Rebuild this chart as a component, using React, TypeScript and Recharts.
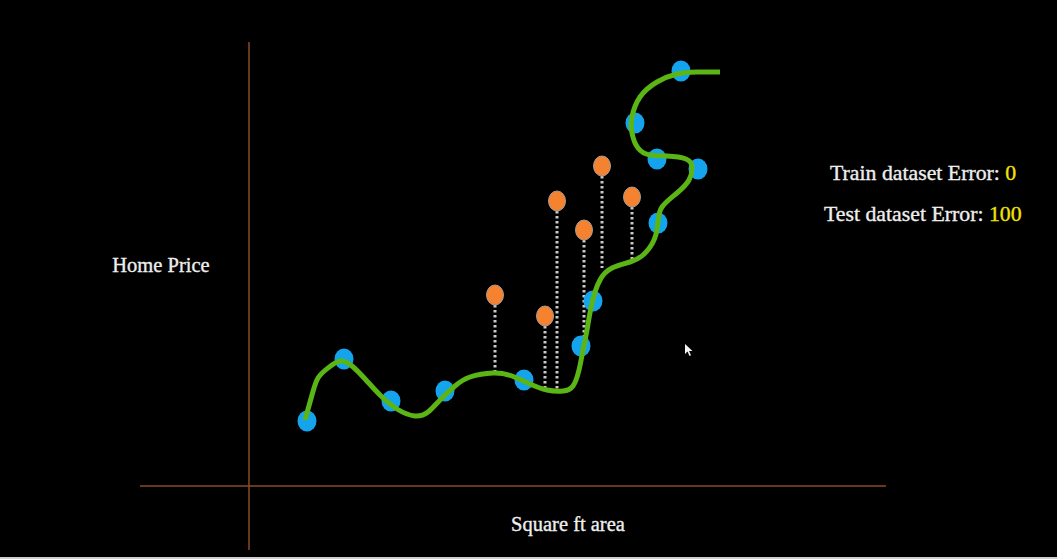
import React from 'react';
import { ScatterChart, Scatter, XAxis, YAxis, ReferenceLine, Customized } from 'recharts';

// Values: x = square ft (relative units), y = home price (relative units)
const trainX = [58, 95, 142, 196, 275, 332, 344, 409, 449, 408, 386, 432];
const trainY = [65, 127, 85, 95, 106, 140, 185, 263, 317, 327, 363, 415];

const testX = [246, 296, 308, 335, 353, 383];
const testY = [191, 170, 285, 256, 320, 289];
const testFitY = [113, 98, 97, 149, 218, 225];

const curveX = [56, 63, 69, 79, 91, 103, 117, 131, 148, 166, 179, 191, 206, 221, 244, 263, 281, 298, 314, 324, 330, 334, 338, 343, 351, 363, 381, 394, 405, 409, 413, 428, 440, 443, 437, 418, 401, 389, 383, 383, 391, 408, 428, 448, 471];
const curveY = [66, 91, 108, 118, 125, 120, 106, 91, 77, 70, 74, 86, 100, 109, 113, 110, 102, 96, 95, 100, 116, 136, 156, 183, 206, 218, 224, 231, 246, 264, 279, 293, 306, 319, 327, 330, 331, 338, 353, 369, 389, 404, 412, 414, 414];

const trainLabel = 'Train dataset Error: ';
const trainErr = '0';
const testLabel = 'Test dataset Error: ';
const testErr = '100';
const yLabel = 'Home Price';
const xLabel = 'Square ft area';

const train = trainX.map((x, i) => ({ x, y: trainY[i] }));
const test = testX.map((x, i) => ({ x, y: testY[i] }));
const curve = curveX.map((x, i) => ({ x, y: curveY[i] }));
const drops = testX.map((x, i) => [
  { x, y: testY[i] },
  { x, y: testFitY[i] },
]);

const W = 1057;
const H = 557;

const BlueDot = (p: any) => (
  <ellipse cx={p.cx} cy={p.cy} rx={9.5} ry={10.5} fill="#14a4ee" />
);
const OrangeDot = (p: any) => (
  <ellipse cx={p.cx} cy={p.cy} rx={8.5} ry={10} fill="#f4822e" stroke="#a99a90" strokeWidth={1} />
);
const NoDot = () => <g />;

const font = '"Liberation Serif", "DejaVu Serif", serif';

const Texts = () => (
  <g fontFamily={font} strokeWidth={0.35}>
    <text x={161} y={272} fill="#eeeeee" stroke="#eeeeee" fontSize={20.5} textAnchor="middle">{yLabel}</text>
    <text x={568} y={531} fill="#eeeeee" stroke="#eeeeee" fontSize={20.5} textAnchor="middle">{xLabel}</text>
    <text x={830} y={180} fill="#eeeeee" stroke="#eeeeee" fontSize={21.8}>
      {trainLabel}
      <tspan fill="#f2e20a" stroke="#f2e20a">{trainErr}</tspan>
    </text>
    <text x={824} y={221} fill="#eeeeee" stroke="#eeeeee" fontSize={21.8}>
      {testLabel}
      <tspan fill="#f2e20a" stroke="#f2e20a">{testErr}</tspan>
    </text>
    <polygon points="685,344 685,354 687.5,351.5 689.5,356 691,355.3 689,351 692.5,351" fill="#f4f4f4" stroke="none" />
  </g>
);

export default function App() {
  return (
    <div style={{ position: 'absolute', left: 0, top: 0, width: W, height: 559, background: '#cfcfcf' }}>
      <div style={{ width: W, height: H, background: '#000000' }}>
        <ScatterChart width={W} height={H} margin={{ top: 0, right: 0, bottom: 0, left: 0 }}>
          <XAxis type="number" dataKey="x" domain={[-249, 808]} hide allowDataOverflow />
          <YAxis type="number" dataKey="y" domain={[-71, 486]} hide allowDataOverflow />
          <ReferenceLine
            segment={[{ x: 0, y: 444 }, { x: 0, y: -64 }]}
            stroke="#8a4b26"
            strokeWidth={1.5}
            ifOverflow="visible"
          />
          <ReferenceLine
            segment={[{ x: -109, y: 0 }, { x: 637, y: 0 }]}
            stroke="#8a4b26"
            strokeWidth={1.5}
            ifOverflow="visible"
          />
          {drops.map((d, i) => (
            <Scatter
              key={'d' + i}
              data={d}
              shape={NoDot}
              line={{ stroke: '#c8c8c8', strokeWidth: 3, strokeDasharray: '2.5 2.5' }}
              isAnimationActive={false}
            />
          ))}
          <Scatter data={train} shape={BlueDot} isAnimationActive={false} />
          <Scatter
            data={curve}
            shape={NoDot}
            line={{ stroke: '#5bb514', strokeWidth: 5, fill: 'none' }}
            lineJointType="natural"
            isAnimationActive={false}
          />
          <Scatter data={test} shape={OrangeDot} isAnimationActive={false} />
          <Customized component={Texts} />
        </ScatterChart>
      </div>
    </div>
  );
}
